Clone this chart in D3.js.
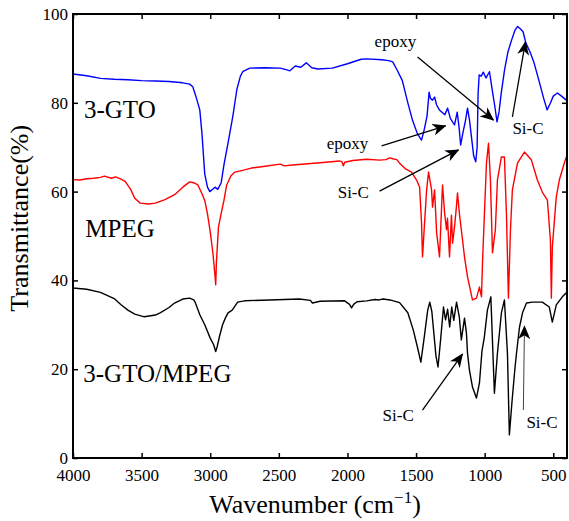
<!DOCTYPE html>
<html>
<head>
<meta charset="utf-8">
<script src="https://cdn.jsdelivr.net/npm/d3@7"></script>
<style>
  body { margin: 0; background: #fff; }
  svg text { font-family: "Liberation Serif", "DejaVu Serif", serif; }
</style>
</head>
<body>
<div id="chart"></div>
<script>
// 3-GTO (blue)
let gtoWn = [4000,3900,3800,3700,3600,3500,3400,3300,3200,3150,3127,3100,3076,3060,3040,3020,3003,2980,2965,2945,2920,2900,2870,2835,2806,2780,2763,2712,2600,2490,2440,2420,2380,2340,2300,2260,2215,2110,2000,1900,1860,1750,1700,1670,1640,1600,1560,1525,1490,1460,1440,1420,1405,1395,1380,1365,1350,1330,1290,1270,1250,1220,1200,1185,1175,1160,1140,1125,1110,1095,1080,1065,1055,1048,1040,1025,1010,990,965,945,925,910,895,880,855,830,805,780,760,745,735,720,700,670,640,600,570,545,520,500,470,440,405];
let gtoT  = [86.5,86.1,85.5,85.3,85.2,85.0,84.9,84.8,84.5,84.2,83.6,81,78.4,73,64,61,60,60.6,61,60.5,62,66,71,77,83,86,87,87.8,87.9,87.8,87.4,87.2,88.3,88.0,89.0,87.9,87.6,87.8,88.8,89.8,89.9,89.7,89.5,89.2,87.5,85,80,76,73,71.6,74,77,82.4,81,80.6,81.3,79.5,78.4,77.3,78.8,76.5,75,77.9,74,70.5,73,76,78.8,76,72,68,66.7,70,82,86.3,86,86.9,85.6,87,82.9,79,75.7,78,82,87.4,91.5,94,96.3,97.2,96.8,96.5,96.0,93.5,91.5,89,84.5,81,78.4,80,81.5,82.2,81.5,80.6];

// MPEG (red)
let mpegWn = [4000,3950,3900,3850,3800,3770,3720,3690,3650,3620,3580,3550,3510,3450,3400,3330,3260,3200,3150,3120,3090,3060,3040,3020,3000,2980,2965,2960,2955,2940,2930,2915,2900,2880,2850,2820,2750,2700,2600,2490,2460,2400,2200,2057,2040,2030,2020,1960,1860,1766,1720,1693,1670,1640,1620,1580,1533,1496,1474,1460,1453,1438,1423,1409,1387,1380,1365,1350,1329,1314,1307,1292,1278,1271,1256,1242,1234,1220,1206,1198,1184,1170,1147,1125,1089,1060,1038,1023,1016,987,972,958,943,922,907,878,856,841,827,812,798,761,710,659,616,580,543,521,514,507,478,456,420,405];
let mpegT  = [62.7,62.6,62.9,63.0,63.2,63.5,63.0,63.3,62.8,62.3,60.5,58.5,57.4,57.2,57.4,58.2,59.3,61,62.2,62.0,61.5,59.5,58,55,51,46,41,39,44,52,53.6,55.9,58,61.5,63.5,64.4,64.9,65.3,65.7,66.2,65.8,66.0,66.5,66.9,66.7,65.8,66.6,67.0,67.3,67.1,67.2,67.6,67.4,67.2,66.4,65.2,64.4,62.6,61,52.9,45.3,52.9,60.4,64.4,60.4,56.5,60.4,50.7,45.3,56.5,61.5,55.2,51.4,54,45.3,54.7,48.4,52,56.5,59.7,55,51.4,45.3,40.8,35.6,36,38.5,36.3,43.9,66.4,70.9,62.6,46.2,51.4,62.6,67.8,67.8,54.7,36,51.4,60.4,66.4,68.9,67.1,62.6,59.9,58.1,49.1,36,47.5,58.8,62.6,66.4,67.8];

// 3-GTO/MPEG (black)
let mixWn = [4000,3900,3800,3700,3650,3600,3550,3480,3400,3365,3300,3260,3200,3150,3120,3110,3075,3040,3000,2975,2960,2950,2930,2910,2890,2870,2840,2800,2750,2570,2350,2270,2255,2200,2020,1985,1970,1955,1930,1860,1800,1770,1740,1690,1620,1560,1520,1490,1465,1440,1415,1400,1385,1370,1355,1340,1320,1300,1285,1270,1255,1240,1225,1205,1185,1170,1147,1133,1125,1111,1089,1060,1038,1020,1002,980,955,929,907,878,856,834,820,800,780,768,746,724,695,652,580,529,507,478,434,405];
let mixT  = [38.3,38.0,37.3,35.9,34.5,33.3,32.4,31.8,32.2,32.7,33.9,34.9,35.8,36.0,35.6,35.1,32.2,30,27,25.5,24,25,27.7,30,31.5,32.7,33.3,35.1,35.4,35.6,35.8,35.5,34.9,35.3,35.4,34.6,33.8,34.6,35.2,35.4,35.7,35.6,35.8,35.6,35.0,32.7,28.8,25,21.6,27.3,33.3,35.1,33,28,23,20.5,27,34,31.1,33.5,29.5,34,31,35.1,31.8,26.6,31.5,28.2,23.6,19.8,16,13.5,16.9,24,27.3,33.3,36.3,14.6,23.6,32.7,35.6,23.6,5.2,13,20,23.6,29.5,32.7,34.9,35.1,35.1,34,30.6,34.5,36.3,37.2];

let xTicks = [4000,3500,3000,2500,2000,1500,1000,500];
let yTicks = [0,20,40,60,80,100];

// series labels: [name, wavenumber, T]
let seriesLabels = [["3-GTO",3920,76.6],["MPEG",3910,49.8],["3-GTO/MPEG",3925,17.1]];
// annotations: text, text pos (wn, T), arrow from (wn, T), arrow tip (wn, T)
let notes = [
  {text:"epoxy", tx:1802, ty:92.6, x1:1489, y1:90.3, x2:936, y2:76.1},
  {text:"Si-C",  tx:798,  ty:73.0, x1:798,  y1:76.8, x2:703, y2:93.7},
  {text:"epoxy", tx:2151, ty:69.6, x1:1751, y1:70.3, x2:1285, y2:74.8},
  {text:"Si-C",  tx:2071, ty:58.6, x1:1766, y1:60.1, x2:1191, y2:69.4},
  {text:"Si-C",  tx:1744, ty:8.3,  x1:1453, y1:10.8, x2:1162, y2:23.4},
  {text:"Si-C",  tx:696,  ty:6.8,  x1:718,  y1:10.8, x2:710,  y2:29.7, thin:true}
];

const SERIF = "'Liberation Serif', 'DejaVu Serif', serif";

var margin = {top: 14, right: 2, bottom: 63, left: 73},
    width = 569 - margin.left - margin.right,
    height = 521 - margin.top - margin.bottom;

var svg = d3.select("#chart").append("svg")
    .attr("width", 569).attr("height", 521)
    .attr("font-family", SERIF)
  .append("g")
    .attr("transform", "translate(" + margin.left + "," + margin.top + ")");

var x = d3.scaleLinear().domain([4000, 400]).range([0, width]);
var y = d3.scaleLinear().domain([0, 100]).range([height, 0]);

let defs = svg.append("defs");
defs.append("marker")
    .attr("id", "head")
    .attr("viewBox", "0 -6 14 12")
    .attr("refX", 13).attr("refY", 0)
    .attr("markerWidth", 14).attr("markerHeight", 12)
    .attr("orient", "auto")
    .attr("markerUnits", "userSpaceOnUse")
  .append("path")
    .attr("d", "M0,-6L14,0L0,6L4,0Z")
    .style("fill", "black");

function line(wn, t, color) {
    let pts = wn.map((w, i) => [w, t[i]]);
    svg.append("path")
        .datum(pts)
        .attr("fill", "none")
        .attr("stroke", color)
        .attr("stroke-width", 1.4)
        .attr("stroke-linejoin", "round")
        .attr("d", d3.line().x(d => x(d[0])).y(d => y(d[1])));
}
line(gtoWn, gtoT, "#0000ff");
line(mpegWn, mpegT, "#ff0000");
line(mixWn, mixT, "black");

// axes, ticks inside
svg.append("g")
    .attr("class", "ax")
    .attr("transform", "translate(0," + height + ")")
    .call(d3.axisBottom(x).tickValues(xTicks).tickFormat(d3.format("d")).tickSize(-5).tickSizeOuter(0).tickPadding(11));
svg.append("g")
    .attr("class", "ax")
    .call(d3.axisLeft(y).tickValues(yTicks).tickFormat(d3.format("d")).tickSize(-5).tickSizeOuter(0).tickPadding(5));
svg.append("g")
    .attr("class", "ax")
    .call(d3.axisTop(x).tickValues(xTicks).tickSize(-5).tickSizeOuter(0).tickFormat(""));
svg.append("g")
    .attr("class", "ax")
    .attr("transform", "translate(" + width + ",0)")
    .call(d3.axisRight(y).tickValues(yTicks).tickSize(-5).tickSizeOuter(0).tickFormat(""));
svg.selectAll(".ax").attr("font-family", SERIF).attr("font-size", 17);
svg.selectAll(".ax .domain").remove();
svg.selectAll(".ax line").attr("stroke", "black").attr("stroke-width", 1.5);
svg.selectAll(".ax text")
    .attr("font-family", SERIF)
    .attr("font-size", 17)
    .attr("fill", "black");

svg.append("rect")
    .attr("width", width).attr("height", height)
    .attr("fill", "none").attr("stroke", "black").attr("stroke-width", 2);

// series labels
svg.selectAll(".slab")
    .data(seriesLabels)
    .enter().append("text")
    .attr("x", d => x(d[1]))
    .attr("y", d => y(d[2]))
    .attr("font-family", SERIF)
    .attr("font-size", 25)
    .text(d => d[0]);

// annotations
let ng = svg.selectAll(".note").data(notes).enter().append("g");
ng.append("line")
    .attr("x1", d => x(d.x1)).attr("y1", d => y(d.y1))
    .attr("x2", d => x(d.x2)).attr("y2", d => y(d.y2))
    .attr("stroke", d => d.thin ? "#444" : "black")
    .attr("stroke-width", d => d.thin ? 1 : 1.3)
    .attr("marker-end", "url(#head)");
ng.append("text")
    .attr("x", d => x(d.tx)).attr("y", d => y(d.ty))
    .attr("font-family", SERIF)
    .attr("font-size", 17)
    .text(d => d.text);

// axis titles
let xt = svg.append("text")
    .attr("x", width / 2 - 5).attr("y", height + 55)
    .attr("text-anchor", "middle")
    .attr("font-family", SERIF)
    .attr("font-size", 26);
xt.append("tspan").text("Wavenumber (cm");
xt.append("tspan").attr("dy", -10).attr("font-size", 17).text("\u22121");
xt.append("tspan").attr("dy", 10).text(")");

svg.append("text")
    .attr("transform", "translate(-45," + (y(54)) + ") rotate(-90)")
    .attr("text-anchor", "middle")
    .attr("font-family", SERIF)
    .attr("font-size", 26)
    .text("Transmittance(%)");
</script>
</body>
</html>
